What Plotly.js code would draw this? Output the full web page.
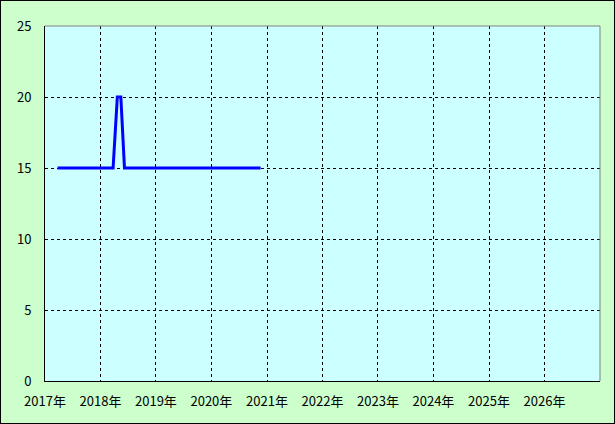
<!DOCTYPE html>
<html><head><meta charset="utf-8">
<script src="https://cdn.plot.ly/plotly-3.0.1.min.js"></script>
<style>html,body{margin:0;padding:0;background:#fff}#chart{width:613px;height:422px;border:1px solid #000}</style>
</head><body><div id="chart"></div>
<script>
const dates = ['2017-03-25','2018-03-25','2018-04-22','2018-05-15','2018-06-08','2020-11-20'];
const values = [15, 15, 20, 20, 15, 15];
const xRange = ['2017-01-01','2027-01-01'];
const yRange = [0, 25];

const font = {family: '"Noto Sans CJK JP", "DejaVu Sans", sans-serif', size: 13, color: '#000'};
Plotly.newPlot('chart', [{
  x: dates, y: values, type: 'scatter', mode: 'lines',
  line: {color: '#0000FF', width: 3}, hoverinfo: 'skip'
}], {
  width: 613, height: 422,
  margin: {l: 44, r: 14, t: 25, b: 42},
  paper_bgcolor: '#CCFFCC', plot_bgcolor: '#CCFFFF',
  showlegend: false, font: font,
  xaxis: {type: 'date', range: xRange, tickformat: '%Y年', dtick: 'M12', tick0: '2017-01-01',
    showgrid: true, gridcolor: '#000', griddash: '3px,3px', gridwidth: 1,
    showline: true, linecolor: '#000', linewidth: 1, ticks: '', ticklabelstandoff: 8,
    zeroline: false, fixedrange: true},
  yaxis: {range: yRange, dtick: 5, showgrid: true, gridcolor: '#000', griddash: '3px,3px', gridwidth: 1,
    showline: true, linecolor: '#000', linewidth: 1, ticks: '', ticklabelstandoff: 10,
    zeroline: false, fixedrange: true},
  shapes: [
    {type: 'line', xref: 'paper', yref: 'paper', x0: 0, x1: 1, y0: 1, y1: 1, line: {color: '#808080', width: 1}, layer: 'above'},
    {type: 'line', xref: 'paper', yref: 'paper', x0: 1, x1: 1, y0: 0, y1: 1, line: {color: '#808080', width: 1}, layer: 'above'}
  ]
}, {displayModeBar: false, staticPlot: true});
</script></body></html>
